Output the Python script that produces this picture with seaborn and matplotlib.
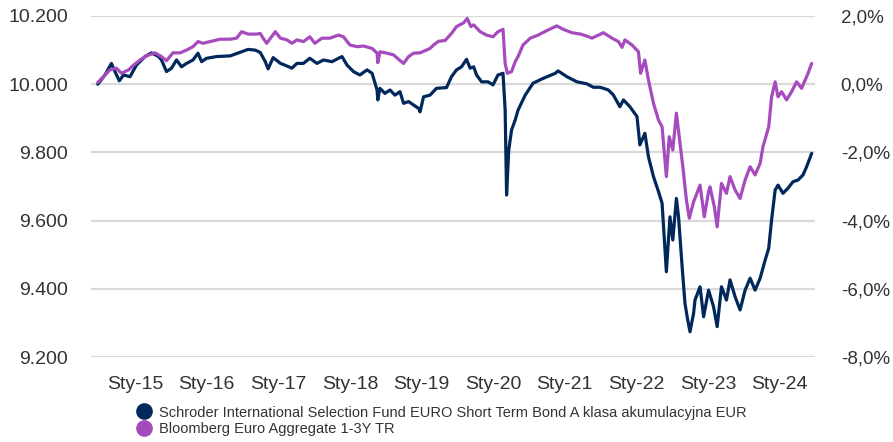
import pandas as pd
import matplotlib.pyplot as plt
import matplotlib.ticker as mticker
from matplotlib.lines import Line2D
import seaborn as sns

# Data (time as decimal years)
fund_t = [2014.48, 2014.58, 2014.67, 2014.72, 2014.78, 2014.84, 2014.93, 2015.02, 2015.14, 2015.23,
          2015.33, 2015.37, 2015.44, 2015.51, 2015.58, 2015.65, 2015.72, 2015.81, 2015.88, 2015.93,
          2016.00, 2016.14, 2016.33, 2016.49, 2016.58, 2016.68, 2016.75, 2016.82, 2016.86, 2016.93,
          2017.03, 2017.09, 2017.19, 2017.26, 2017.35, 2017.44, 2017.54, 2017.63, 2017.75, 2017.84,
          2017.89, 2017.96, 2018.05, 2018.14, 2018.24, 2018.31, 2018.38, 2018.39, 2018.42, 2018.49,
          2018.56, 2018.63, 2018.70, 2018.75, 2018.82, 2018.89, 2018.96, 2018.98, 2019.03, 2019.12,
          2019.21, 2019.35, 2019.42, 2019.49, 2019.56, 2019.63, 2019.68, 2019.73, 2019.77, 2019.84,
          2019.93, 2020.00, 2020.07, 2020.14, 2020.17, 2020.19, 2020.22, 2020.26, 2020.31, 2020.35,
          2020.45, 2020.56, 2020.70, 2020.87, 2020.91, 2021.03, 2021.17, 2021.31, 2021.40, 2021.49,
          2021.54, 2021.61, 2021.68, 2021.77, 2021.82, 2021.91, 2022.01, 2022.05, 2022.12, 2022.17,
          2022.24, 2022.31, 2022.36, 2022.42, 2022.47, 2022.51, 2022.56, 2022.59, 2022.64, 2022.68,
          2022.71, 2022.75, 2022.80, 2022.82, 2022.89, 2022.94, 2023.01, 2023.08, 2023.13, 2023.19,
          2023.26, 2023.31, 2023.38, 2023.45, 2023.52, 2023.59, 2023.66, 2023.73, 2023.80, 2023.85,
          2023.89, 2023.94, 2023.98, 2024.05, 2024.12, 2024.19, 2024.26, 2024.33, 2024.38, 2024.45]
fund_val = [10000, 10027, 10061, 10037, 10010, 10027, 10022, 10056, 10081, 10092,
            10081, 10071, 10037, 10047, 10071, 10051, 10061, 10071, 10091, 10066,
            10076, 10081, 10083, 10095, 10102, 10100, 10093, 10066, 10045, 10078,
            10061, 10056, 10047, 10061, 10061, 10076, 10061, 10071, 10066, 10076,
            10081, 10056, 10037, 10027, 10042, 10032, 9983, 9954, 9988, 9973,
            9983, 9968, 9978, 9944, 9949, 9939, 9929, 9919, 9963, 9968,
            9988, 9990, 10022, 10042, 10051, 10073, 10047, 10051, 10027, 10007,
            10007, 9998, 10027, 10032, 9924, 9675, 9807, 9866, 9895, 9924,
            9968, 10003, 10017, 10032, 10039, 10022, 10007, 10001, 9991, 9991,
            9988, 9983, 9968, 9934, 9954, 9934, 9905, 9822, 9856, 9787,
            9729, 9685, 9651, 9450, 9611, 9543, 9665, 9611, 9465, 9357,
            9318, 9274, 9328, 9367, 9406, 9318, 9396, 9347, 9289, 9406,
            9367, 9426, 9377, 9338, 9396, 9431, 9396, 9431, 9484, 9519,
            9602, 9690, 9704, 9680, 9695, 9714, 9719, 9734, 9758, 9797]

bench_t = [2014.48, 2014.58, 2014.65, 2014.74, 2014.81, 2014.91, 2014.98, 2015.07, 2015.16, 2015.28,
           2015.37, 2015.44, 2015.53, 2015.63, 2015.72, 2015.81, 2015.88, 2015.95, 2016.05, 2016.19,
           2016.33, 2016.42, 2016.49, 2016.58, 2016.70, 2016.75, 2016.79, 2016.84, 2016.96, 2017.03,
           2017.12, 2017.19, 2017.26, 2017.35, 2017.44, 2017.51, 2017.61, 2017.72, 2017.84, 2017.91,
           2018.00, 2018.10, 2018.19, 2018.31, 2018.38, 2018.39, 2018.42, 2018.52, 2018.61, 2018.68,
           2018.75, 2018.82, 2018.89, 2018.98, 2019.07, 2019.12, 2019.17, 2019.24, 2019.33, 2019.42,
           2019.49, 2019.59, 2019.64, 2019.69, 2019.73, 2019.82, 2019.91, 2020.00, 2020.07, 2020.14,
           2020.17, 2020.20, 2020.26, 2020.31, 2020.35, 2020.42, 2020.52, 2020.63, 2020.75, 2020.89,
           2020.98, 2021.10, 2021.22, 2021.31, 2021.38, 2021.45, 2021.54, 2021.66, 2021.75, 2021.80,
           2021.84, 2021.94, 2022.03, 2022.06, 2022.12, 2022.17, 2022.24, 2022.31, 2022.36, 2022.42,
           2022.46, 2022.51, 2022.56, 2022.60, 2022.65, 2022.70, 2022.74, 2022.80, 2022.89, 2022.95,
           2023.01, 2023.03, 2023.09, 2023.13, 2023.19, 2023.26, 2023.31, 2023.38, 2023.45, 2023.52,
           2023.59, 2023.66, 2023.73, 2023.77, 2023.85, 2023.89, 2023.94, 2023.98, 2024.03, 2024.10,
           2024.17, 2024.24, 2024.31, 2024.36, 2024.40, 2024.45]
bench_pct = [0.05, 0.27, 0.42, 0.47, 0.32, 0.42, 0.56, 0.71, 0.83, 0.92,
             0.81, 0.69, 0.92, 0.92, 1.00, 1.10, 1.25, 1.20, 1.25, 1.32,
             1.32, 1.35, 1.54, 1.47, 1.47, 1.49, 1.35, 1.20, 1.54, 1.35,
             1.30, 1.20, 1.30, 1.25, 1.39, 1.20, 1.35, 1.35, 1.44, 1.39,
             1.15, 1.10, 1.12, 1.05, 0.91, 0.63, 0.95, 0.91, 0.86, 0.73,
             0.61, 0.81, 0.91, 0.92, 1.00, 1.05, 1.15, 1.26, 1.28, 1.49,
             1.69, 1.80, 1.93, 1.69, 1.74, 1.54, 1.44, 1.39, 1.54, 1.61,
             0.61, 0.32, 0.37, 0.66, 0.81, 1.15, 1.35, 1.44, 1.57, 1.71,
             1.61, 1.51, 1.47, 1.41, 1.35, 1.42, 1.51, 1.35, 1.25, 1.08,
             1.30, 1.15, 0.95, 0.32, 0.71, 0.12, -0.56, -1.05, -1.25, -2.71,
             -1.54, -1.93, -0.85, -1.54, -2.42, -3.40, -3.93, -3.45, -2.96, -3.89,
             -3.15, -3.01, -3.59, -4.18, -2.91, -3.20, -2.71, -3.10, -3.35, -2.81,
             -2.42, -2.66, -2.32, -1.83, -1.25, -0.37, 0.07, -0.37, -0.22, -0.46,
             -0.22, 0.07, -0.12, 0.12, 0.32, 0.61]

year_ticks = list(range(2015, 2025))
fund_name = "Schroder International Selection Fund EURO Short Term Bond A klasa akumulacyjna EUR"
bench_name = "Bloomberg Euro Aggregate 1-3Y TR"

navy = "#00285a"
purple = "#a64bbe"


def to_date(t):
    y = int(t)
    return pd.Timestamp(year=y, month=1, day=1) + pd.Timedelta(days=(t - y) * 365.25)


fund = pd.DataFrame({"date": [to_date(t) for t in fund_t], "value": fund_val})
bench = pd.DataFrame({"date": [to_date(t) for t in bench_t], "pct": bench_pct})

sns.set_style("white")
plt.rcParams["font.family"] = ["Liberation Sans", "DejaVu Sans"]

fig = plt.figure(figsize=(8.93, 4.42), dpi=100)
ax = fig.add_axes([91 / 893, 1 - 357 / 442, (815 - 91) / 893, (357 - 16) / 442])
ax2 = ax.twinx()

sns.lineplot(data=fund, x="date", y="value", ax=ax, color=navy, linewidth=2.3)
sns.lineplot(data=bench, x="date", y="pct", ax=ax2, color=purple, linewidth=2.3)

ax.set_ylim(9200, 10200)
ax2.set_ylim(-8, 2)
ax.set_yticks(range(9200, 10201, 200))
ax2.set_yticks(range(-8, 3, 2))
ax.yaxis.set_major_formatter(mticker.FuncFormatter(lambda v, p: f"{v:,.0f}".replace(",", ".")))
ax2.yaxis.set_major_formatter(mticker.FuncFormatter(lambda v, p: f"{v:.1f}%".replace(".", ",")))

ax.set_xlim(to_date(2014.385), to_date(2024.497))
ax.set_xticks([pd.Timestamp(year=y, month=1, day=1) for y in year_ticks])
ax.set_xticklabels([f"Sty-{y % 100}" for y in year_ticks])

ax.grid(axis="y", color="#d9d9d9", linewidth=1.6)
ax.grid(axis="x", visible=False)
ax.set_axisbelow(True)
for a in (ax, ax2):
    a.set_xlabel("")
    a.set_ylabel("")
    for s in a.spines.values():
        s.set_visible(False)
ax.tick_params(axis="y", length=0, pad=16.5, labelsize=14, labelcolor="#333333")
ax.tick_params(axis="x", length=0, pad=14, labelsize=14, labelcolor="#333333")
ax2.tick_params(axis="y", length=0, pad=18.5, labelsize=13.5, labelcolor="#333333")

handles = [Line2D([], [], marker="o", linestyle="none", color=navy, markersize=11),
           Line2D([], [], marker="o", linestyle="none", color=purple, markersize=11)]
fig.legend(handles, [fund_name, bench_name], loc="center left",
           bbox_to_anchor=(137 / 893, 1 - 421 / 442), frameon=False, fontsize=10.5,
           handlelength=0.95, handletextpad=0.55, labelspacing=0.2, borderpad=0,
           borderaxespad=0, labelcolor="#333333")

plt.savefig("out.png", dpi=100)
plt.close()
